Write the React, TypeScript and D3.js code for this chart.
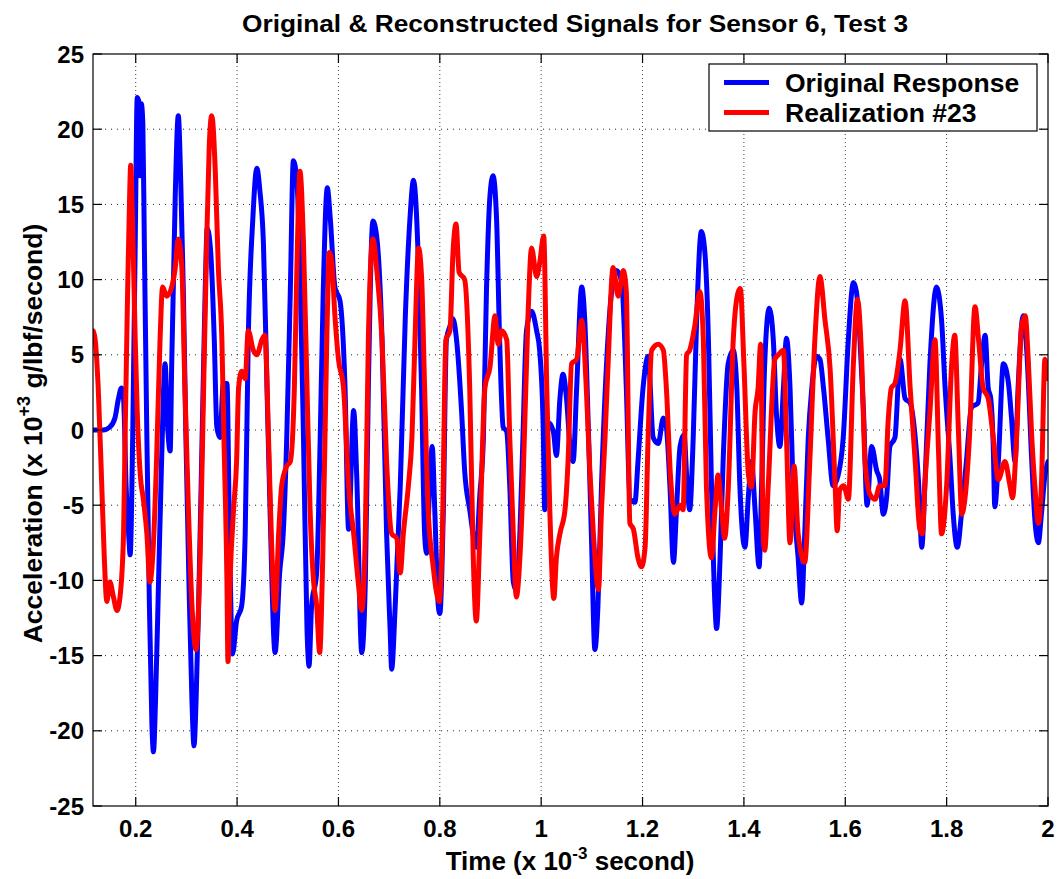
import React from "react";
import * as d3 from "d3";

const originalResponse: [number, number][] = [
  [0.116,0],[0.136,0],[0.149,0.2],[0.159,0.8],[0.166,2.1],[0.172,2.8],[0.176,2.1],[0.181,-3.7],[0.186,-6.9],[0.189,-8.3],[0.194,-0.5],[0.199,12.4],[0.203,22.1],[0.207,21.7],[0.209,16.9],[0.211,21.7],[0.214,20.4],[0.217,12.4],[0.222,-0.5],[0.227,-11.7],[0.232,-19.7],[0.235,-21.4],[0.239,-18.1],[0.245,-10.1],[0.251,-2.1],[0.258,4.4],[0.263,0.2],[0.268,-1.4],[0.271,4.4],[0.278,15.6],[0.284,20.9],[0.289,16.3],[0.294,9.2],[0.299,-0.5],[0.305,-10.1],[0.311,-18.1],[0.315,-21.0],[0.319,-18.1],[0.324,-11.7],[0.330,-2.1],[0.337,9.2],[0.341,13.4],[0.348,11.8],[0.355,6.0],[0.360,0.2],[0.366,-0.5],[0.373,3.1],[0.380,3.1],[0.385,-6.9],[0.391,-14.9],[0.399,-12.7],[0.409,-11.7],[0.416,-6.9],[0.422,6.0],[0.431,14.0],[0.439,17.4],[0.445,15.9],[0.452,12.4],[0.459,2.8],[0.465,-5.3],[0.475,-14.8],[0.484,-9.5],[0.491,-6.9],[0.498,-0.5],[0.505,9.2],[0.511,17.9],[0.518,16.6],[0.524,10.8],[0.531,-0.5],[0.538,-13.3],[0.542,-15.7],[0.547,-11.7],[0.557,-9.5],[0.564,-0.5],[0.570,9.2],[0.578,16.1],[0.584,14.0],[0.593,9.5],[0.603,8.6],[0.613,2.8],[0.620,-6.6],[0.630,1.3],[0.636,-3.0],[0.646,-14.8],[0.653,-10.1],[0.659,2.8],[0.668,13.9],[0.676,12.7],[0.686,6.0],[0.695,-6.9],[0.702,-13.3],[0.705,-15.9],[0.712,-11.7],[0.722,-3.7],[0.732,7.6],[0.741,14.0],[0.748,16.6],[0.757,11.8],[0.764,2.8],[0.770,-6.9],[0.774,-8.2],[0.780,-3.7],[0.785,-1.1],[0.790,-5.3],[0.797,-11.7],[0.800,-12.2],[0.807,-5.3],[0.813,6.0],[0.820,6.9],[0.826,7.4],[0.833,6.0],[0.843,1.2],[0.849,-2.7],[0.859,-5.3],[0.872,-7.8],[0.879,-4.3],[0.886,-0.5],[0.892,9.2],[0.899,15.6],[0.905,16.9],[0.912,14.0],[0.918,6.0],[0.925,0.2],[0.932,-0.1],[0.938,-3.7],[0.945,-10.1],[0.951,-10.7],[0.958,-6.9],[0.964,-0.5],[0.971,6.6],[0.981,7.9],[0.991,6.6],[0.997,5.3],[1.004,0.2],[1.007,-5.3],[1.014,0.5],[1.024,-0.1],[1.030,-1.7],[1.037,2.1],[1.043,3.7],[1.050,2.1],[1.057,-1.1],[1.063,-2.1],[1.070,2.8],[1.080,9.5],[1.086,7.3],[1.093,0.2],[1.099,-6.9],[1.106,-14.6],[1.112,-11.7],[1.119,-3.7],[1.129,4.4],[1.139,9.2],[1.149,10.6],[1.159,9.8],[1.168,2.8],[1.175,-4.6],[1.185,-4.8],[1.191,-2.1],[1.201,2.8],[1.211,4.9],[1.221,-0.5],[1.231,-0.9],[1.241,0.8],[1.247,0.2],[1.254,-3.7],[1.261,-8.8],[1.267,-5.3],[1.274,-1.1],[1.282,-0.3],[1.287,-3.0],[1.293,-5.3],[1.300,-0.5],[1.307,7.6],[1.316,13.2],[1.323,11.8],[1.330,6.0],[1.336,-3.7],[1.343,-11.7],[1.346,-13.2],[1.353,-8.5],[1.359,-2.1],[1.369,4.4],[1.379,5.3],[1.386,2.8],[1.392,-3.7],[1.402,-7.8],[1.409,-4.3],[1.415,-2.1],[1.422,-5.3],[1.430,-9.1],[1.435,-3.7],[1.441,4.4],[1.450,8.1],[1.458,6.0],[1.464,1.2],[1.471,-1.1],[1.478,2.8],[1.484,6.1],[1.491,2.8],[1.497,-3.7],[1.507,-8.5],[1.514,-11.5],[1.520,-6.9],[1.527,-0.5],[1.534,2.8],[1.543,4.9],[1.550,4.7],[1.557,2.8],[1.566,-0.5],[1.576,-3.7],[1.586,-3.0],[1.596,-0.5],[1.606,6.0],[1.616,9.8],[1.622,9.2],[1.629,6.0],[1.636,1.2],[1.643,-5.0],[1.652,-1.1],[1.662,-2.7],[1.668,-3.3],[1.675,-5.6],[1.682,-4.3],[1.688,-1.1],[1.698,-0.5],[1.708,4.7],[1.718,2.1],[1.728,1.8],[1.738,-0.5],[1.745,-3.7],[1.751,-7.8],[1.757,-3.7],[1.767,4.4],[1.780,9.5],[1.790,7.3],[1.797,2.8],[1.807,-2.1],[1.813,-5.6],[1.821,-7.8],[1.830,-5.3],[1.839,-2.1],[1.849,1.5],[1.862,1.8],[1.869,4.4],[1.876,6.3],[1.882,2.8],[1.887,2.1],[1.892,-1.1],[1.895,-5.1],[1.902,-2.1],[1.912,4.4],[1.922,3.1],[1.928,0.8],[1.935,-2.1],[1.941,2.8],[1.951,7.6],[1.958,5.3],[1.968,-2.1],[1.974,-5.9],[1.981,-7.5],[1.987,-5.6],[1.994,-3.0],[2.000,-2.1]
];

const realization23: [number, number][] = [
  [0.116,6.6],[0.120,6.0],[0.126,2.8],[0.133,-3.7],[0.138,-8.5],[0.143,-11.4],[0.149,-10.1],[0.156,-11.1],[0.163,-12.0],[0.169,-11.1],[0.176,-6.9],[0.179,-0.5],[0.184,9.2],[0.188,15.6],[0.190,17.6],[0.194,13.4],[0.199,6.0],[0.203,1.2],[0.209,-3.0],[0.215,-4.6],[0.222,-6.9],[0.228,-10.1],[0.235,-7.5],[0.241,-2.1],[0.248,6.0],[0.253,9.5],[0.261,8.9],[0.271,9.5],[0.278,10.8],[0.284,12.7],[0.291,10.8],[0.297,2.8],[0.304,-5.3],[0.311,-11.7],[0.319,-14.6],[0.327,-8.5],[0.334,2.8],[0.340,12.4],[0.345,18.8],[0.350,20.9],[0.357,17.2],[0.363,10.8],[0.370,6.0],[0.374,-0.5],[0.380,-10.1],[0.382,-15.4],[0.386,-10.1],[0.393,-5.3],[0.399,-2.1],[0.403,2.8],[0.409,3.9],[0.416,3.4],[0.422,6.6],[0.432,5.3],[0.439,5.0],[0.449,6.0],[0.455,6.3],[0.462,-0.5],[0.468,-7.5],[0.475,-12.0],[0.482,-6.9],[0.488,-3.7],[0.498,-2.4],[0.505,-2.1],[0.513,2.8],[0.518,10.8],[0.524,17.2],[0.531,12.4],[0.538,2.8],[0.544,-5.3],[0.551,-10.1],[0.557,-11.7],[0.563,-14.8],[0.569,-8.5],[0.577,6.0],[0.582,11.8],[0.587,11.1],[0.593,7.6],[0.600,4.7],[0.610,2.8],[0.620,-3.7],[0.630,-6.9],[0.639,-10.1],[0.646,-12.0],[0.653,-6.9],[0.659,6.0],[0.668,12.7],[0.676,10.5],[0.686,6.0],[0.695,-2.1],[0.705,-6.9],[0.715,-7.2],[0.722,-9.5],[0.728,-6.9],[0.738,-3.7],[0.745,-0.5],[0.751,6.0],[0.758,12.1],[0.764,10.2],[0.770,2.8],[0.777,-5.3],[0.787,-9.1],[0.793,-10.7],[0.799,-11.4],[0.805,-6.9],[0.812,6.0],[0.820,6.6],[0.826,11.8],[0.832,13.7],[0.838,10.5],[0.849,10.0],[0.859,2.8],[0.866,-8.5],[0.872,-12.7],[0.879,-6.9],[0.889,2.8],[0.899,4.2],[0.909,7.6],[0.915,5.7],[0.922,6.6],[0.932,6.0],[0.938,-0.5],[0.945,-6.9],[0.951,-11.1],[0.958,-8.5],[0.964,-3.7],[0.974,7.6],[0.981,12.1],[0.991,10.2],[0.997,11.1],[1.005,12.9],[1.011,2.8],[1.017,-5.3],[1.025,-11.2],[1.030,-8.5],[1.037,-6.9],[1.047,-5.3],[1.053,-2.1],[1.060,4.4],[1.070,4.7],[1.080,7.3],[1.089,2.8],[1.096,-2.7],[1.103,-6.9],[1.113,-10.6],[1.119,-5.3],[1.126,-0.5],[1.132,4.4],[1.142,10.8],[1.152,8.9],[1.162,10.6],[1.168,9.2],[1.175,-6.2],[1.182,-6.6],[1.191,-8.5],[1.198,-9.1],[1.205,-7.8],[1.211,-0.5],[1.218,5.3],[1.231,5.7],[1.241,5.3],[1.247,2.8],[1.255,-3.0],[1.264,-5.6],[1.274,-5.0],[1.280,-5.3],[1.287,5.0],[1.293,5.3],[1.303,6.9],[1.313,9.2],[1.320,6.0],[1.326,-3.7],[1.336,-8.5],[1.343,-5.3],[1.349,-3.0],[1.356,-5.3],[1.362,-7.2],[1.369,-4.0],[1.379,6.0],[1.389,9.2],[1.393,9.4],[1.400,4.4],[1.409,-3.0],[1.415,-3.8],[1.422,1.2],[1.428,2.8],[1.433,5.7],[1.438,-6.9],[1.441,-8.0],[1.448,-3.7],[1.461,4.7],[1.468,5.0],[1.478,5.3],[1.484,-0.5],[1.491,-7.5],[1.499,-2.4],[1.507,-6.9],[1.520,-8.8],[1.530,-2.1],[1.540,6.0],[1.550,10.2],[1.560,7.3],[1.570,4.1],[1.580,-3.7],[1.584,-6.7],[1.589,-4.0],[1.597,-3.7],[1.606,-4.6],[1.616,4.4],[1.624,8.7],[1.632,5.0],[1.639,-2.1],[1.649,-4.3],[1.659,-4.6],[1.668,-3.7],[1.678,-3.7],[1.685,0.8],[1.691,2.8],[1.698,3.1],[1.708,5.3],[1.718,8.6],[1.728,2.8],[1.738,-2.1],[1.747,-6.6],[1.752,-6.9],[1.757,-3.7],[1.767,1.2],[1.777,6.0],[1.784,-1.4],[1.790,-6.9],[1.800,-3.7],[1.810,4.4],[1.816,6.3],[1.823,0.2],[1.830,-5.6],[1.836,-4.6],[1.845,-0.5],[1.856,8.2],[1.863,6.0],[1.872,2.8],[1.882,2.1],[1.892,-0.5],[1.902,-3.3],[1.915,-2.1],[1.925,-3.7],[1.930,-4.5],[1.938,-0.5],[1.948,6.9],[1.955,7.6],[1.961,4.7],[1.968,-0.5],[1.974,-3.7],[1.981,-6.2],[1.987,-3.7],[1.994,4.7],[2.000,3.4]
];

const xTicks = [0.2, 0.4, 0.6, 0.8, 1, 1.2, 1.4, 1.6, 1.8, 2];
const yTicks = [-25, -20, -15, -10, -5, 0, 5, 10, 15, 20, 25];
const seriesNames = ["Original Response", "Realization #23"];
const seriesColors = ["#0000FF", "#FF0000"];

const FONT = "'Liberation Sans', Arial, Helvetica, sans-serif";

export default function App() {
  const W = 1057, H = 879;
  const left = 93, right = 1048, top = 54, bottom = 806;
  const x = d3.scaleLinear().domain([0.1157, 2]).range([left, right]);
  const y = d3.scaleLinear().domain([-25, 25]).range([bottom, top]);
  const line = d3
    .line<[number, number]>()
    .x((d) => x(d[0]))
    .y((d) => y(d[1]))
    .curve(d3.curveMonotoneX);
  const series = [originalResponse, realization23];
  const tickLen = 9;

  return (
    <svg
      width={W}
      height={H}
      style={{ position: "absolute", left: 0, top: 0, background: "#fff" }}
      fontFamily={FONT}
    >
      <defs>
        <clipPath id="plotClip">
          <rect x={left} y={top} width={right - left} height={bottom - top} />
        </clipPath>
      </defs>
      <rect x={0} y={0} width={W} height={H} fill="#fff" />
      {/* grid */}
      {xTicks.filter((t) => x(t) < right - 1).map((t) => (
        <line key={"gx" + t} x1={x(t)} x2={x(t)} y1={top} y2={bottom}
          stroke="#000" strokeWidth={1} strokeDasharray="1,3" opacity={0.75} />
      ))}
      {yTicks.filter((t) => t > -25 && t < 25).map((t) => (
        <line key={"gy" + t} x1={left} x2={right} y1={y(t)} y2={y(t)}
          stroke="#000" strokeWidth={1} strokeDasharray="1,5" opacity={0.85} />
      ))}
      {/* data */}
      <g clipPath="url(#plotClip)">
        {series.map((s, i) => (
          <path key={i} d={line(s) || ""} fill="none" stroke={seriesColors[i]}
            strokeWidth={5} strokeLinejoin="round" strokeLinecap="round" />
        ))}
      </g>
      {/* box */}
      <rect x={left} y={top} width={right - left} height={bottom - top}
        fill="none" stroke="#000" strokeWidth={1.2} />
      {/* ticks */}
      {xTicks.map((t) => (
        <g key={"tx" + t}>
          <line x1={x(t)} x2={x(t)} y1={bottom} y2={bottom - tickLen} stroke="#000" strokeWidth={1.2} />
          <line x1={x(t)} x2={x(t)} y1={top} y2={top + tickLen} stroke="#000" strokeWidth={1.2} />
          <text x={x(t)} y={837} textAnchor="middle" fontSize={24} fontWeight="bold">
            {d3.format("~g")(t)}
          </text>
        </g>
      ))}
      {yTicks.map((t) => (
        <g key={"ty" + t}>
          <line x1={left} x2={left + tickLen} y1={y(t)} y2={y(t)} stroke="#000" strokeWidth={1.2} />
          <line x1={right} x2={right - tickLen} y1={y(t)} y2={y(t)} stroke="#000" strokeWidth={1.2} />
          <text x={84} y={y(t) + 8.5} textAnchor="end" fontSize={24} fontWeight="bold">
            {t}
          </text>
        </g>
      ))}
      {/* title */}
      <text x={575} y={32} textAnchor="middle" fontSize={23.5} fontWeight="bold"
        textLength={666} lengthAdjust="spacingAndGlyphs">
        Original &amp; Reconstructed Signals for Sensor 6, Test 3
      </text>
      {/* x label */}
      <text x={570} y={870} textAnchor="middle" fontSize={26} fontWeight="bold">
        Time (x 10<tspan fontSize={17} dy={-11}>-3</tspan><tspan dy={11}> second)</tspan>
      </text>
      {/* y label */}
      <text transform={`translate(42,${(222 + 645) / 2}) rotate(-90)`} textAnchor="middle"
        fontSize={26.5} fontWeight="bold">
        Acceleration (x 10<tspan fontSize={18} dy={-12}>+3</tspan><tspan dy={12}> g/lbf/second)</tspan>
      </text>
      {/* legend */}
      <rect x={709} y={64} width={328} height={67} fill="#fff" stroke="#000" strokeWidth={1.2} />
      {seriesNames.map((n, i) => (
        <g key={n}>
          <line x1={724} x2={769} y1={82.5 + i * 30} y2={82.5 + i * 30}
            stroke={seriesColors[i]} strokeWidth={5} />
          <text x={785} y={82.5 + i * 30 + 9.5} fontSize={26.5} fontWeight="bold">{n}</text>
        </g>
      ))}
    </svg>
  );
}
